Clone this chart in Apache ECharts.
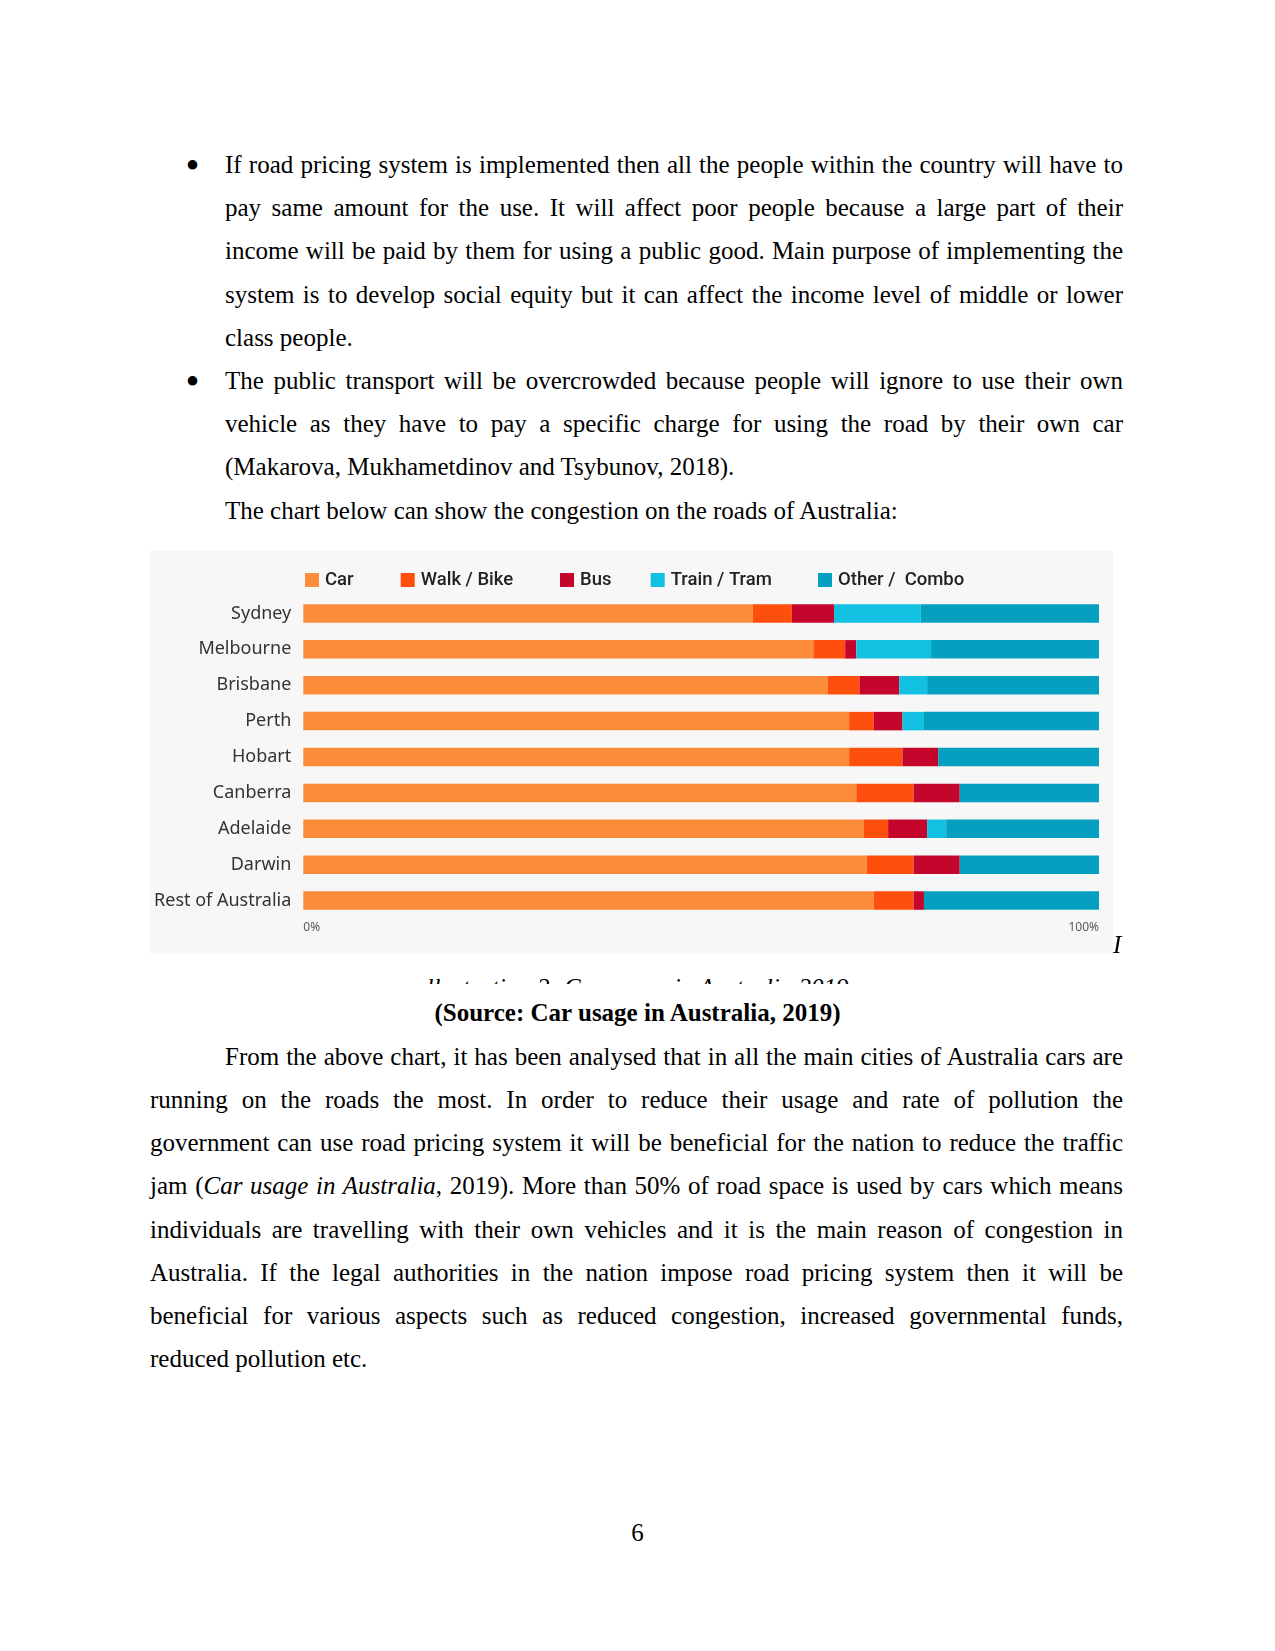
<!DOCTYPE html>
<html>
<head>
<meta charset="utf-8">
<script src="https://cdn.jsdelivr.net/npm/echarts@6/dist/echarts.min.js"></script>
<style>
  html, body { margin: 0; padding: 0; background: #ffffff; }
  #page { position: relative; width: 1275px; height: 1651px; background: #fff; overflow: hidden;
          font-family: "Liberation Serif", "Times New Roman", serif; font-size: 25px; color: #000; }
  .ln { position: absolute; height: 43.2px; line-height: 43.2px; white-space: nowrap; }
  .j { text-align: justify; text-align-last: justify; white-space: normal; }
  .bul { position: absolute; left: 185.5px; line-height: 43.2px; font-size: 40px; }
  #chart { position: absolute; left: 150px; top: 551px; width: 963px; height: 403px; background: #f7f7f7; }
</style>
</head>
<body>
<div id="page">
  <!-- bullet 1 -->
  <div class="bul" style="top:144px">•</div>
  <div class="ln j" style="left:225px;width:898px;top:143px">If road pricing system is implemented then all the people within the country will have to</div>
  <div class="ln j" style="left:225px;width:898px;top:186.2px">pay same amount for the use. It will affect poor people because a large part of their</div>
  <div class="ln j" style="left:225px;width:898px;top:229.4px">income will be paid by them for using a public good. Main purpose of implementing the</div>
  <div class="ln j" style="left:225px;width:898px;top:272.6px">system is to develop social equity but it can affect the income level of middle or lower</div>
  <div class="ln" style="left:225px;top:315.8px">class people.</div>
  <!-- bullet 2 -->
  <div class="bul" style="top:359.5px">•</div>
  <div class="ln j" style="left:225px;width:898px;top:359px">The public transport will be overcrowded because people will ignore to use their own</div>
  <div class="ln j" style="left:225px;width:898px;top:402.2px">vehicle as they have to pay a specific charge for using the road by their own car</div>
  <div class="ln" style="left:225px;top:445.4px">(Makarova, Mukhametdinov and Tsybunov, 2018).</div>
  <div class="ln" style="left:225px;top:488.6px">The chart below can show the congestion on the roads of Australia:</div>

  <div id="chart"></div>

  <div style="position:absolute;left:1113px;top:923px;line-height:43.2px;font-style:italic;">I</div>
  <div style="position:absolute;left:150px;width:975px;top:976px;height:8px;overflow:hidden;">
    <div style="position:absolute;left:0;width:975px;top:-1.5px;line-height:25px;text-align:center;font-style:italic;white-space:nowrap;">llustration 2: Car usage in Australia 2019</div>
  </div>

  <div class="ln" style="left:150px;width:975px;top:991px;text-align:center;font-weight:bold;">(Source: Car usage in Australia, 2019)</div>

  <div class="ln j" style="left:225px;width:898px;top:1034.7px">From the above chart, it has been analysed that in all the main cities of Australia cars are</div>
  <div class="ln j" style="left:150px;width:973px;top:1077.9px">running on the roads the most. In order to reduce their usage and rate of pollution the</div>
  <div class="ln j" style="left:150px;width:973px;top:1121.1px">government can use road pricing system it will be beneficial for the nation to reduce the traffic</div>
  <div class="ln j" style="left:150px;width:973px;top:1164.3px">jam (<i>Car usage in Australia</i>, 2019). More than 50% of road space is used by cars which means</div>
  <div class="ln j" style="left:150px;width:973px;top:1207.5px">individuals are travelling with their own vehicles and it is the main reason of congestion in</div>
  <div class="ln j" style="left:150px;width:973px;top:1250.7px">Australia. If the legal authorities in the nation impose road pricing system then it will be</div>
  <div class="ln j" style="left:150px;width:973px;top:1293.9px">beneficial for various aspects such as reduced congestion, increased governmental funds,</div>
  <div class="ln" style="left:150px;top:1337.1px">reduced pollution etc.</div>

  <div class="ln" style="left:150px;width:975px;top:1510.5px;text-align:center;">6</div>
</div>

<script>
const categories = ['Sydney', 'Melbourne', 'Brisbane', 'Perth', 'Hobart', 'Canberra', 'Adelaide', 'Darwin', 'Rest of Australia'];
const seriesNames = ['Car', 'Walk / Bike', 'Bus', 'Train / Tram', 'Other /  Combo'];
const car   = [56.5, 64.1, 65.9, 68.6, 68.6, 69.5, 70.4, 70.8, 71.7];
const walk  = [4.9, 4.0, 4.0, 3.1, 6.7, 7.2, 3.1, 5.9, 5.0];
const bus   = [5.3, 1.4, 5.0, 3.6, 4.5, 5.8, 4.9, 5.8, 1.3];
const train = [10.9, 9.4, 3.5, 2.7, 0, 0, 2.4, 0, 0];
const other = [22.4, 21.1, 21.6, 22.0, 20.2, 17.5, 19.2, 17.5, 22.0];
const axisTicks = [0, 100];

const colors = ['#fd8c3a', '#ff4f0c', '#c4062c', '#12c1e2', '#05a0c0'];
const values = [car, walk, bus, train, other];
const legendLefts = [155, 250.7, 410, 500.7, 668];

const chart = echarts.init(document.getElementById('chart'), null, { renderer: 'canvas' });
chart.setOption({
  animation: false,
  backgroundColor: '#f7f7f7',
  color: colors,
  textStyle: { fontFamily: 'Noto Sans' },
  legend: seriesNames.map((n, i) => ({
    data: [n],
    left: legendLefts[i],
    top: 19,
    padding: 0,
    itemWidth: 14,
    itemHeight: 14,
    icon: 'rect',
    selectedMode: false,
    textStyle: { fontFamily: 'Roboto', fontSize: 18.5, fontWeight: 500, color: '#222', lineHeight: 20, padding: [0, 0, 0, 1] }
  })),
  grid: { left: 153.3, right: 14, top: 44.5, bottom: 35.5, containLabel: false },
  xAxis: {
    type: 'value',
    min: axisTicks[0],
    max: axisTicks[1],
    interval: 100,
    axisLine: { show: false },
    axisTick: { show: false },
    splitLine: { show: false },
    axisLabel: {
      formatter: '{value}%',
      fontFamily: 'Noto Sans',
      fontSize: 12,
      color: '#5a5a5a',
      margin: 3,
      alignMinLabel: 'left',
      alignMaxLabel: 'right'
    }
  },
  yAxis: {
    type: 'category',
    data: categories,
    inverse: true,
    axisLine: { show: false },
    axisTick: { show: false },
    axisLabel: { fontFamily: 'Noto Sans', fontSize: 18, color: '#333', margin: 12 }
  },
  series: seriesNames.map((n, i) => ({
    name: n,
    type: 'bar',
    stack: 'total',
    barWidth: 18.5,
    data: values[i],
    itemStyle: { color: colors[i] }
  }))
});
</script>
</body>
</html>
